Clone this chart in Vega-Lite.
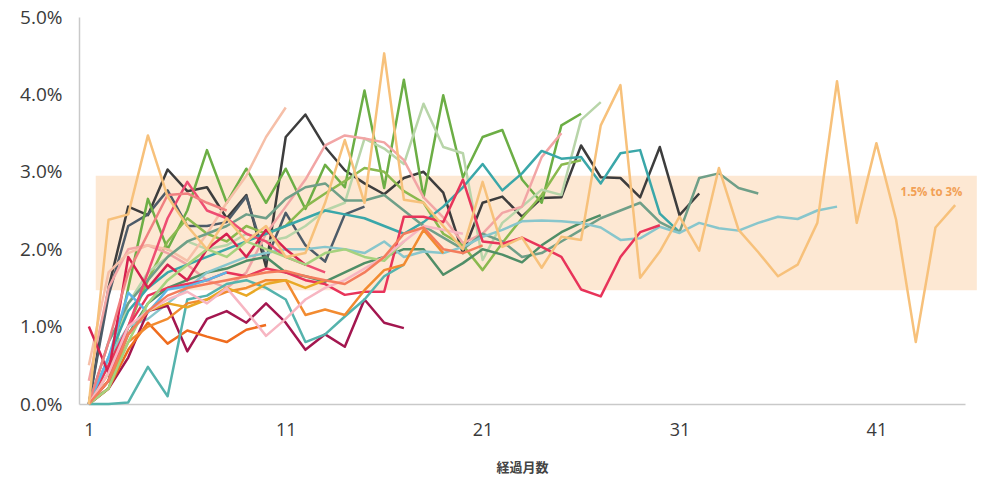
{
"$schema":"https://vega.github.io/schema/vega-lite/v6.json",
"width":886,"height":387,
"autosize":{"type":"none"},
"padding":{"left":79,"top":17,"right":19,"bottom":78},
"background":"white",
"config":{"view":{"stroke":null},"font":"Open Sans"},
"datasets":{
"band":[{"from":1.35,"to":46.1,"lo":1.47,"hi":2.95,"label":"1.5% to 3%"}],
"lines":[
{"s":"A","m":1,"v":0},{"s":"A","m":2,"v":1.5},{"s":"A","m":3,"v":2.55},{"s":"A","m":4,"v":2.44},{"s":"A","m":5,"v":3.03},{"s":"A","m":6,"v":2.75},{"s":"A","m":7,"v":2.8},{"s":"A","m":8,"v":2.4},{"s":"A","m":9,"v":2.7},{"s":"A","m":10,"v":1.77},{"s":"A","m":11,"v":3.45},{"s":"A","m":12,"v":3.74},{"s":"A","m":13,"v":3.32},{"s":"A","m":14,"v":3.02},{"s":"A","m":15,"v":2.85},{"s":"A","m":16,"v":2.71},{"s":"A","m":17,"v":2.92},{"s":"A","m":18,"v":3.0},{"s":"A","m":19,"v":2.73},{"s":"A","m":20,"v":1.95},{"s":"A","m":21,"v":2.6},{"s":"A","m":22,"v":2.68},{"s":"A","m":23,"v":2.42},{"s":"A","m":24,"v":2.66},{"s":"A","m":25,"v":2.67},{"s":"A","m":26,"v":3.34},{"s":"A","m":27,"v":2.93},{"s":"A","m":28,"v":2.92},{"s":"A","m":29,"v":2.67},{"s":"A","m":30,"v":3.32},{"s":"A","m":31,"v":2.44},{"s":"A","m":32,"v":2.72},
{"s":"B","m":1,"v":0},{"s":"B","m":2,"v":1.4},{"s":"B","m":3,"v":2.3},{"s":"B","m":4,"v":2.45},{"s":"B","m":5,"v":2.76},{"s":"B","m":6,"v":2.3},{"s":"B","m":7,"v":2.3},{"s":"B","m":8,"v":2.35},{"s":"B","m":9,"v":2.68},{"s":"B","m":10,"v":1.86},{"s":"B","m":11,"v":2.47},{"s":"B","m":12,"v":2.05},{"s":"B","m":13,"v":1.84},{"s":"B","m":14,"v":2.45},{"s":"B","m":15,"v":2.55},
{"s":"C","m":1,"v":0},{"s":"C","m":2,"v":0.3},{"s":"C","m":3,"v":1.5},{"s":"C","m":4,"v":2.65},{"s":"C","m":5,"v":2.0},{"s":"C","m":6,"v":2.5},{"s":"C","m":7,"v":3.28},{"s":"C","m":8,"v":2.6},{"s":"C","m":9,"v":3.04},{"s":"C","m":10,"v":2.6},{"s":"C","m":11,"v":3.04},{"s":"C","m":12,"v":2.52},{"s":"C","m":13,"v":3.09},{"s":"C","m":14,"v":2.8},{"s":"C","m":15,"v":4.05},{"s":"C","m":16,"v":2.79},{"s":"C","m":17,"v":4.19},{"s":"C","m":18,"v":2.67},{"s":"C","m":19,"v":3.99},{"s":"C","m":20,"v":2.93},{"s":"C","m":21,"v":3.45},{"s":"C","m":22,"v":3.54},{"s":"C","m":23,"v":2.9},{"s":"C","m":24,"v":2.6},{"s":"C","m":25,"v":3.6},{"s":"C","m":26,"v":3.75},
{"s":"D","m":1,"v":0},{"s":"D","m":2,"v":0.2},{"s":"D","m":3,"v":1.0},{"s":"D","m":4,"v":1.6},{"s":"D","m":5,"v":2.1},{"s":"D","m":6,"v":2.4},{"s":"D","m":7,"v":2.2},{"s":"D","m":8,"v":2.1},{"s":"D","m":9,"v":2.3},{"s":"D","m":10,"v":2.2},{"s":"D","m":11,"v":2.3},{"s":"D","m":12,"v":2.55},{"s":"D","m":13,"v":2.72},{"s":"D","m":14,"v":2.88},{"s":"D","m":15,"v":3.05},{"s":"D","m":16,"v":3.0},{"s":"D","m":17,"v":2.75},{"s":"D","m":18,"v":2.6},{"s":"D","m":19,"v":2.2},{"s":"D","m":20,"v":2.05},{"s":"D","m":21,"v":1.73},{"s":"D","m":22,"v":2.08},{"s":"D","m":23,"v":2.4},{"s":"D","m":24,"v":2.7},{"s":"D","m":25,"v":3.09},{"s":"D","m":26,"v":3.15},
{"s":"E","m":1,"v":0},{"s":"E","m":2,"v":0.5},{"s":"E","m":3,"v":1.3},{"s":"E","m":4,"v":1.7},{"s":"E","m":5,"v":1.9},{"s":"E","m":6,"v":2.1},{"s":"E","m":7,"v":2.0},{"s":"E","m":8,"v":2.05},{"s":"E","m":9,"v":2.2},{"s":"E","m":10,"v":2.1},{"s":"E","m":11,"v":2.15},{"s":"E","m":12,"v":2.3},{"s":"E","m":13,"v":2.5},{"s":"E","m":14,"v":2.6},{"s":"E","m":15,"v":3.43},{"s":"E","m":16,"v":3.3},{"s":"E","m":17,"v":3.1},{"s":"E","m":18,"v":3.88},{"s":"E","m":19,"v":3.32},{"s":"E","m":20,"v":3.24},{"s":"E","m":21,"v":1.86},{"s":"E","m":22,"v":2.34},{"s":"E","m":23,"v":2.55},{"s":"E","m":24,"v":2.77},{"s":"E","m":25,"v":2.7},{"s":"E","m":26,"v":3.67},{"s":"E","m":27,"v":3.9},
{"s":"F","m":1,"v":0.3},{"s":"F","m":2,"v":1.5},{"s":"F","m":3,"v":2.0},{"s":"F","m":4,"v":2.05},{"s":"F","m":5,"v":1.95},{"s":"F","m":6,"v":1.8},{"s":"F","m":7,"v":1.6},{"s":"F","m":8,"v":1.5},{"s":"F","m":9,"v":1.7},{"s":"F","m":10,"v":2.2},{"s":"F","m":11,"v":2.55},{"s":"F","m":12,"v":2.9},{"s":"F","m":13,"v":3.34},{"s":"F","m":14,"v":3.47},{"s":"F","m":15,"v":3.43},{"s":"F","m":16,"v":3.38},{"s":"F","m":17,"v":3.15},{"s":"F","m":18,"v":2.67},{"s":"F","m":19,"v":2.41},{"s":"F","m":20,"v":2.08},{"s":"F","m":21,"v":2.2},{"s":"F","m":22,"v":2.47},{"s":"F","m":23,"v":2.55},{"s":"F","m":24,"v":3.19},{"s":"F","m":25,"v":3.5},
{"s":"G","m":1,"v":0.5},{"s":"G","m":2,"v":1.7},{"s":"G","m":3,"v":1.95},{"s":"G","m":4,"v":2.05},{"s":"G","m":5,"v":2.0},{"s":"G","m":6,"v":1.85},{"s":"G","m":7,"v":2.2},{"s":"G","m":8,"v":2.6},{"s":"G","m":9,"v":2.95},{"s":"G","m":10,"v":3.45},{"s":"G","m":11,"v":3.83},
{"s":"H","m":1,"v":0},{"s":"H","m":2,"v":0.6},{"s":"H","m":3,"v":1.2},{"s":"H","m":4,"v":1.5},{"s":"H","m":5,"v":1.7},{"s":"H","m":6,"v":1.8},{"s":"H","m":7,"v":1.9},{"s":"H","m":8,"v":2.0},{"s":"H","m":9,"v":2.1},{"s":"H","m":10,"v":2.2},{"s":"H","m":11,"v":2.3},{"s":"H","m":12,"v":2.4},{"s":"H","m":13,"v":2.5},{"s":"H","m":14,"v":2.45},{"s":"H","m":15,"v":2.4},{"s":"H","m":16,"v":2.3},{"s":"H","m":17,"v":2.2},{"s":"H","m":18,"v":2.35},{"s":"H","m":19,"v":2.55},{"s":"H","m":20,"v":2.8},{"s":"H","m":21,"v":3.1},{"s":"H","m":22,"v":2.76},{"s":"H","m":23,"v":2.98},{"s":"H","m":24,"v":3.27},{"s":"H","m":25,"v":3.17},{"s":"H","m":26,"v":3.19},{"s":"H","m":27,"v":2.85},{"s":"H","m":28,"v":3.24},{"s":"H","m":29,"v":3.28},{"s":"H","m":30,"v":2.46},{"s":"H","m":31,"v":2.22},
{"s":"I","m":1,"v":0},{"s":"I","m":2,"v":0.8},{"s":"I","m":3,"v":1.3},{"s":"I","m":4,"v":1.6},{"s":"I","m":5,"v":1.9},{"s":"I","m":6,"v":2.1},{"s":"I","m":7,"v":2.2},{"s":"I","m":8,"v":2.3},{"s":"I","m":9,"v":2.45},{"s":"I","m":10,"v":2.4},{"s":"I","m":11,"v":2.65},{"s":"I","m":12,"v":2.8},{"s":"I","m":13,"v":2.85},{"s":"I","m":14,"v":2.63},{"s":"I","m":15,"v":2.63},{"s":"I","m":16,"v":2.7},{"s":"I","m":17,"v":2.5},{"s":"I","m":18,"v":2.3},{"s":"I","m":19,"v":2.15},{"s":"I","m":20,"v":2.0},{"s":"I","m":21,"v":2.2},{"s":"I","m":22,"v":2.1},{"s":"I","m":23,"v":1.9},{"s":"I","m":24,"v":1.95},{"s":"I","m":25,"v":2.1},{"s":"I","m":26,"v":2.25},{"s":"I","m":27,"v":2.4},{"s":"I","m":28,"v":2.5},{"s":"I","m":29,"v":2.6},{"s":"I","m":30,"v":2.35},{"s":"I","m":31,"v":2.22},{"s":"I","m":32,"v":2.92},{"s":"I","m":33,"v":2.98},{"s":"I","m":34,"v":2.79},{"s":"I","m":35,"v":2.72},
{"s":"J","m":1,"v":0},{"s":"J","m":2,"v":0.3},{"s":"J","m":3,"v":0.9},{"s":"J","m":4,"v":1.3},{"s":"J","m":5,"v":1.5},{"s":"J","m":6,"v":1.6},{"s":"J","m":7,"v":1.7},{"s":"J","m":8,"v":1.75},{"s":"J","m":9,"v":1.85},{"s":"J","m":10,"v":1.9},{"s":"J","m":11,"v":1.7},{"s":"J","m":12,"v":1.65},{"s":"J","m":13,"v":1.58},{"s":"J","m":14,"v":1.7},{"s":"J","m":15,"v":1.82},{"s":"J","m":16,"v":1.9},{"s":"J","m":17,"v":2.0},{"s":"J","m":18,"v":2.0},{"s":"J","m":19,"v":1.67},{"s":"J","m":20,"v":1.82},{"s":"J","m":21,"v":2.0},{"s":"J","m":22,"v":1.93},{"s":"J","m":23,"v":1.83},{"s":"J","m":24,"v":2.05},{"s":"J","m":25,"v":2.22},{"s":"J","m":26,"v":2.34},{"s":"J","m":27,"v":2.44},
{"s":"K","m":1,"v":0},{"s":"K","m":2,"v":0.6},{"s":"K","m":3,"v":1.0},{"s":"K","m":4,"v":1.1},{"s":"K","m":5,"v":1.3},{"s":"K","m":6,"v":1.5},{"s":"K","m":7,"v":1.7},{"s":"K","m":8,"v":1.8},{"s":"K","m":9,"v":1.9},{"s":"K","m":10,"v":1.95},{"s":"K","m":11,"v":2.0},{"s":"K","m":12,"v":2.0},{"s":"K","m":13,"v":2.03},{"s":"K","m":14,"v":2.0},{"s":"K","m":15,"v":1.95},{"s":"K","m":16,"v":2.1},{"s":"K","m":17,"v":1.9},{"s":"K","m":18,"v":1.97},{"s":"K","m":19,"v":1.95},{"s":"K","m":20,"v":2.03},{"s":"K","m":21,"v":2.16},{"s":"K","m":22,"v":2.25},{"s":"K","m":23,"v":2.36},{"s":"K","m":24,"v":2.37},{"s":"K","m":25,"v":2.36},{"s":"K","m":26,"v":2.34},{"s":"K","m":27,"v":2.28},{"s":"K","m":28,"v":2.12},{"s":"K","m":29,"v":2.14},{"s":"K","m":30,"v":2.29},{"s":"K","m":31,"v":2.21},{"s":"K","m":32,"v":2.34},{"s":"K","m":33,"v":2.27},{"s":"K","m":34,"v":2.24},{"s":"K","m":35,"v":2.34},{"s":"K","m":36,"v":2.42},{"s":"K","m":37,"v":2.39},{"s":"K","m":38,"v":2.5},{"s":"K","m":39,"v":2.55},
{"s":"L","m":1,"v":0},{"s":"L","m":2,"v":0.5},{"s":"L","m":3,"v":1.0},{"s":"L","m":4,"v":1.4},{"s":"L","m":5,"v":1.5},{"s":"L","m":6,"v":1.55},{"s":"L","m":7,"v":1.6},{"s":"L","m":8,"v":1.7},{"s":"L","m":9,"v":1.65},{"s":"L","m":10,"v":1.75},{"s":"L","m":11,"v":1.7},{"s":"L","m":12,"v":1.6},{"s":"L","m":13,"v":1.55},{"s":"L","m":14,"v":1.41},{"s":"L","m":15,"v":1.45},{"s":"L","m":16,"v":1.45},{"s":"L","m":17,"v":2.42},{"s":"L","m":18,"v":2.42},{"s":"L","m":19,"v":2.35},{"s":"L","m":20,"v":2.9},{"s":"L","m":21,"v":2.1},{"s":"L","m":22,"v":2.07},{"s":"L","m":23,"v":2.15},{"s":"L","m":24,"v":2.03},{"s":"L","m":25,"v":1.9},{"s":"L","m":26,"v":1.48},{"s":"L","m":27,"v":1.39},{"s":"L","m":28,"v":1.9},{"s":"L","m":29,"v":2.22},{"s":"L","m":30,"v":2.31},
{"s":"N","m":1,"v":0},{"s":"N","m":2,"v":0.2},{"s":"N","m":3,"v":0.6},{"s":"N","m":4,"v":1.2},{"s":"N","m":5,"v":1.27},{"s":"N","m":6,"v":0.68},{"s":"N","m":7,"v":1.1},{"s":"N","m":8,"v":1.2},{"s":"N","m":9,"v":1.05},{"s":"N","m":10,"v":1.3},{"s":"N","m":11,"v":1.05},{"s":"N","m":12,"v":0.7},{"s":"N","m":13,"v":0.9},{"s":"N","m":14,"v":0.74},{"s":"N","m":15,"v":1.35},{"s":"N","m":16,"v":1.05},{"s":"N","m":17,"v":0.98},
{"s":"O","m":1,"v":0},{"s":"O","m":2,"v":0.2},{"s":"O","m":3,"v":0.7},{"s":"O","m":4,"v":1.05},{"s":"O","m":5,"v":0.78},{"s":"O","m":6,"v":0.95},{"s":"O","m":7,"v":0.87},{"s":"O","m":8,"v":0.8},{"s":"O","m":9,"v":0.96},{"s":"O","m":10,"v":1.02},
{"s":"P","m":1,"v":0},{"s":"P","m":2,"v":0},{"s":"P","m":3,"v":0.02},{"s":"P","m":4,"v":0.48},{"s":"P","m":5,"v":0.1},{"s":"P","m":6,"v":1.35},{"s":"P","m":7,"v":1.4},{"s":"P","m":8,"v":1.55},{"s":"P","m":9,"v":1.6},{"s":"P","m":10,"v":1.5},{"s":"P","m":11,"v":1.35},{"s":"P","m":12,"v":0.8},{"s":"P","m":13,"v":0.9},{"s":"P","m":14,"v":1.13},{"s":"P","m":15,"v":1.35},{"s":"P","m":16,"v":1.65},{"s":"P","m":17,"v":1.8},
{"s":"Q","m":1,"v":0},{"s":"Q","m":2,"v":0.3},{"s":"Q","m":3,"v":0.8},{"s":"Q","m":4,"v":1.0},{"s":"Q","m":5,"v":1.1},{"s":"Q","m":6,"v":1.3},{"s":"Q","m":7,"v":1.35},{"s":"Q","m":8,"v":1.45},{"s":"Q","m":9,"v":1.5},{"s":"Q","m":10,"v":1.6},{"s":"Q","m":11,"v":1.6},{"s":"Q","m":12,"v":1.15},{"s":"Q","m":13,"v":1.22},{"s":"Q","m":14,"v":1.15},{"s":"Q","m":15,"v":1.47},{"s":"Q","m":16,"v":1.73},{"s":"Q","m":17,"v":1.8},{"s":"Q","m":18,"v":2.25},{"s":"Q","m":19,"v":1.95},
{"s":"R","m":1,"v":0},{"s":"R","m":2,"v":0.6},{"s":"R","m":3,"v":1.44},{"s":"R","m":4,"v":1.18},{"s":"R","m":5,"v":1.48},{"s":"R","m":6,"v":1.52},{"s":"R","m":7,"v":1.6},{"s":"R","m":8,"v":1.7},
{"s":"S","m":1,"v":0},{"s":"S","m":2,"v":0.4},{"s":"S","m":3,"v":0.9},{"s":"S","m":4,"v":1.2},{"s":"S","m":5,"v":1.3},{"s":"S","m":6,"v":1.25},{"s":"S","m":7,"v":1.35},{"s":"S","m":8,"v":1.5},{"s":"S","m":9,"v":1.4},{"s":"S","m":10,"v":1.55},{"s":"S","m":11,"v":1.6},{"s":"S","m":12,"v":1.5},{"s":"S","m":13,"v":1.6},
{"s":"T","m":1,"v":0},{"s":"T","m":2,"v":0.3},{"s":"T","m":3,"v":1.0},{"s":"T","m":4,"v":1.7},{"s":"T","m":5,"v":2.4},{"s":"T","m":6,"v":2.87},{"s":"T","m":7,"v":2.5},{"s":"T","m":8,"v":2.4},{"s":"T","m":9,"v":2.2},{"s":"T","m":10,"v":2.1},{"s":"T","m":11,"v":1.9},{"s":"T","m":12,"v":1.8},{"s":"T","m":13,"v":1.7},
{"s":"U","m":1,"v":1.0},{"s":"U","m":2,"v":0.4},{"s":"U","m":3,"v":1.9},{"s":"U","m":4,"v":1.5},{"s":"U","m":5,"v":1.8},{"s":"U","m":6,"v":1.6},{"s":"U","m":7,"v":2.0},{"s":"U","m":8,"v":2.2},{"s":"U","m":9,"v":1.9},{"s":"U","m":10,"v":2.25},{"s":"U","m":11,"v":2.0},{"s":"U","m":12,"v":1.8},
{"s":"V","m":1,"v":0},{"s":"V","m":2,"v":0.8},{"s":"V","m":3,"v":1.7},{"s":"V","m":4,"v":2.2},{"s":"V","m":5,"v":2.7},{"s":"V","m":6,"v":2.72},{"s":"V","m":7,"v":2.6},{"s":"V","m":8,"v":2.5},
{"s":"W","m":1,"v":0},{"s":"W","m":2,"v":0.2},{"s":"W","m":3,"v":0.8},{"s":"W","m":4,"v":1.3},{"s":"W","m":5,"v":1.6},{"s":"W","m":6,"v":1.8},{"s":"W","m":7,"v":2.0},{"s":"W","m":8,"v":1.9},{"s":"W","m":9,"v":2.1},{"s":"W","m":10,"v":2.0},{"s":"W","m":11,"v":1.9},{"s":"W","m":12,"v":1.8},{"s":"W","m":13,"v":1.95},{"s":"W","m":14,"v":2.0},{"s":"W","m":15,"v":1.9},{"s":"W","m":16,"v":1.85},{"s":"W","m":17,"v":2.1},
{"s":"Y","m":1,"v":0},{"s":"Y","m":2,"v":0.4},{"s":"Y","m":3,"v":1.0},{"s":"Y","m":4,"v":1.2},{"s":"Y","m":5,"v":1.35},{"s":"Y","m":6,"v":1.45},{"s":"Y","m":7,"v":1.3},{"s":"Y","m":8,"v":1.5},{"s":"Y","m":9,"v":1.2},{"s":"Y","m":10,"v":0.88},{"s":"Y","m":11,"v":1.1},{"s":"Y","m":12,"v":1.35},{"s":"Y","m":13,"v":1.5},{"s":"Y","m":14,"v":1.6},{"s":"Y","m":15,"v":1.75},{"s":"Y","m":16,"v":1.9},{"s":"Y","m":17,"v":2.1},{"s":"Y","m":18,"v":2.3},{"s":"Y","m":19,"v":2.25},{"s":"Y","m":20,"v":2.2},
{"s":"Z","m":1,"v":0},{"s":"Z","m":2,"v":0.3},{"s":"Z","m":3,"v":0.9},{"s":"Z","m":4,"v":1.2},{"s":"Z","m":5,"v":1.4},{"s":"Z","m":6,"v":1.5},{"s":"Z","m":7,"v":1.55},{"s":"Z","m":8,"v":1.6},{"s":"Z","m":9,"v":1.65},{"s":"Z","m":10,"v":1.7},{"s":"Z","m":11,"v":1.72},{"s":"Z","m":12,"v":1.65},{"s":"Z","m":13,"v":1.6},{"s":"Z","m":14,"v":1.55},{"s":"Z","m":15,"v":1.7},{"s":"Z","m":16,"v":1.9},{"s":"Z","m":17,"v":2.2},{"s":"Z","m":18,"v":2.28},{"s":"Z","m":19,"v":2.0},{"s":"Z","m":20,"v":1.95},{"s":"Z","m":21,"v":2.05},
{"s":"M","m":1,"v":0},{"s":"M","m":2,"v":2.38},{"s":"M","m":3,"v":2.45},{"s":"M","m":4,"v":3.47},{"s":"M","m":5,"v":2.68},{"s":"M","m":6,"v":2.3},{"s":"M","m":7,"v":2.0},{"s":"M","m":8,"v":2.4},{"s":"M","m":9,"v":2.1},{"s":"M","m":10,"v":2.3},{"s":"M","m":11,"v":1.9},{"s":"M","m":12,"v":1.95},{"s":"M","m":13,"v":2.6},{"s":"M","m":14,"v":3.41},{"s":"M","m":15,"v":2.6},{"s":"M","m":16,"v":4.53},{"s":"M","m":17,"v":2.64},{"s":"M","m":18,"v":2.6},{"s":"M","m":19,"v":2.3},{"s":"M","m":20,"v":2.0},{"s":"M","m":21,"v":2.87},{"s":"M","m":22,"v":2.03},{"s":"M","m":23,"v":2.15},{"s":"M","m":24,"v":1.76},{"s":"M","m":25,"v":2.16},{"s":"M","m":26,"v":2.12},{"s":"M","m":27,"v":3.6},{"s":"M","m":28,"v":4.12},{"s":"M","m":29,"v":1.63},{"s":"M","m":30,"v":1.97},{"s":"M","m":31,"v":2.42},{"s":"M","m":32,"v":1.98},{"s":"M","m":33,"v":3.05},{"s":"M","m":34,"v":2.25},{"s":"M","m":35,"v":1.96},{"s":"M","m":36,"v":1.65},{"s":"M","m":37,"v":1.8},{"s":"M","m":38,"v":2.34},{"s":"M","m":39,"v":4.17},{"s":"M","m":40,"v":2.34},{"s":"M","m":41,"v":3.37},{"s":"M","m":42,"v":2.38},{"s":"M","m":43,"v":0.8},{"s":"M","m":44,"v":2.28},{"s":"M","m":45,"v":2.57}
]},
"layer":[
{"data":{"name":"band"},"mark":{"type":"rect","color":"#fde8d3","clip":false},
 "encoding":{
  "x":{"field":"from","type":"quantitative","scale":{"domain":[0.5,45.5],"nice":false,"zero":false},
   "axis":{"values":[1,11,21,31,41],"format":"d","title":"経過月数","titleFont":"Noto Sans CJK JP","titleFontSize":13,"titleFontWeight":"bold","titleColor":"#444","titlePadding":22,"ticks":false,"grid":false,"domainColor":"#c9c9c9","domainWidth":1.5,"labelFontSize":18,"labelColor":"#3a3a3a","labelPadding":17,"labelFont":"Open Sans"}},
  "x2":{"field":"to"},
  "y":{"field":"lo","type":"quantitative","scale":{"domain":[0,5],"nice":false},
   "axis":{"values":[0,1,2,3,4,5],"labelExpr":"format(datum.value,'.1f')+'%'","title":null,"ticks":false,"grid":false,"domainColor":"#c9c9c9","domainWidth":1.5,"labelFontSize":19,"labelColor":"#3a3a3a","labelPadding":17,"labelFont":"Open Sans"}},
  "y2":{"field":"hi"}}},
{"data":{"name":"lines"},"mark":{"type":"line","strokeWidth":2.5,"strokeJoin":"round"},
 "encoding":{
  "x":{"field":"m","type":"quantitative","title":"経過月数"},
  "y":{"field":"v","type":"quantitative","title":null},
  "color":{"field":"s","type":"nominal","legend":null,
   "scale":{"domain":["A","B","C","D","E","F","G","H","I","J","K","L","N","O","P","Q","R","S","T","U","V","W","Y","Z","M"],
    "range":["#3d3d3d","#4d5b68","#6cae45","#8ab94e","#b8d5a9","#f2a5a5","#f6bfa8","#3aa7a9","#6f9f88","#4f8e67","#88c6cc","#e8345a","#a3164f","#ef6c1e","#55b3ad","#f28b30","#5fb6e6","#e9a825","#ee4d72","#d6214f","#f08080","#a6d27e","#f7b6c2","#f47c5c","#f7c17b"]}}}},
{"data":{"name":"band"},"mark":{"type":"text","color":"#f2a055","fontWeight":"bold","fontSize":11.5,"font":"Open Sans"},
 "encoding":{"x":{"datum":43.8},"y":{"datum":2.72},"text":{"field":"label"}}}
]
}
